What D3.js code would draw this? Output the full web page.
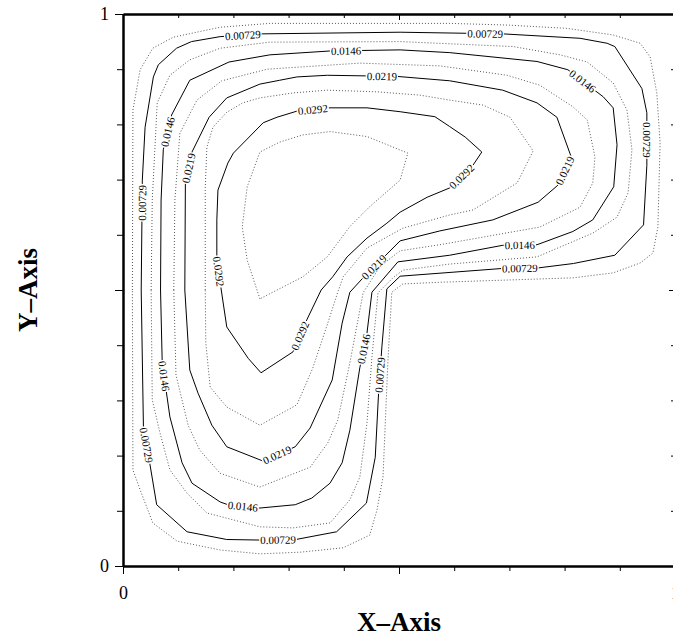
<!DOCTYPE html>
<html>
<head>
<meta charset="utf-8">
<script src="https://cdn.jsdelivr.net/npm/d3@7"></script>
<style>
  body { margin: 0; background: #fff; }
  svg { display: block; }
</style>
</head>
<body>
<div id="chart"></div>
<script>
// contour levels, dotted ones sit half way between the labelled ones
const levels = [0.003645, 0.00729, 0.010935, 0.0146, 0.018225, 0.0219, 0.025515, 0.0292, 0.032805]
const levelText = ['', '0.00729', '', '0.0146', '', '0.0219', '', '0.0292', '']

// contour lines, [x, y] in axis units
const c00365 = [[0.017,0.5],[0.018,0.826],[0.031,0.899],[0.054,0.938],[0.091,0.958],[0.176,0.976],[0.266,0.983],[0.592,0.983],[0.696,0.980],[0.804,0.974],[0.888,0.962],[0.937,0.947],[0.955,0.922],[0.967,0.857],[0.973,0.766],[0.969,0.614],[0.960,0.567],[0.937,0.549],[0.888,0.531],[0.815,0.522],[0.574,0.514],[0.507,0.511],[0.487,0.496],[0.480,0.373],[0.471,0.161],[0.460,0.101],[0.447,0.056],[0.399,0.033],[0.321,0.025],[0.248,0.022],[0.176,0.029],[0.098,0.045],[0.054,0.078],[0.031,0.138],[0.018,0.174]]
const c00729 = [[0.313,0.048],[0.248,0.047],[0.188,0.048],[0.116,0.062],[0.061,0.111],[0.049,0.183],[0.037,0.252],[0.033,0.5],[0.035,0.699],[0.040,0.795],[0.055,0.886],[0.064,0.908],[0.097,0.938],[0.124,0.950],[0.176,0.959],[0.252,0.964],[0.502,0.967],[0.688,0.964],[0.828,0.956],[0.877,0.947],[0.891,0.941],[0.940,0.865],[0.949,0.821],[0.949,0.726],[0.943,0.618],[0.891,0.563],[0.816,0.548],[0.752,0.540],[0.687,0.539],[0.502,0.525],[0.478,0.502],[0.469,0.397],[0.463,0.313],[0.457,0.197],[0.441,0.114],[0.387,0.062]]
const c01094 = [[0.051,0.5],[0.053,0.663],[0.062,0.839],[0.085,0.889],[0.121,0.917],[0.176,0.938],[0.266,0.949],[0.502,0.950],[0.707,0.941],[0.792,0.926],[0.841,0.913],[0.888,0.875],[0.913,0.826],[0.922,0.754],[0.915,0.676],[0.895,0.632],[0.851,0.603],[0.75,0.560],[0.592,0.547],[0.507,0.536],[0.489,0.522],[0.462,0.495],[0.451,0.379],[0.442,0.259],[0.429,0.161],[0.411,0.120],[0.375,0.078],[0.308,0.069],[0.248,0.071],[0.152,0.096],[0.116,0.132],[0.085,0.174],[0.067,0.241],[0.053,0.301]]
const c0146 = [[0.248,0.105],[0.190,0.111],[0.176,0.116],[0.125,0.150],[0.107,0.187],[0.085,0.270],[0.078,0.319],[0.071,0.370],[0.068,0.5],[0.069,0.663],[0.073,0.754],[0.088,0.817],[0.121,0.880],[0.192,0.913],[0.266,0.926],[0.375,0.933],[0.502,0.935],[0.592,0.930],[0.75,0.914],[0.806,0.899],[0.870,0.850],[0.888,0.830],[0.895,0.763],[0.889,0.687],[0.851,0.627],[0.815,0.606],[0.75,0.582],[0.688,0.581],[0.592,0.563],[0.498,0.551],[0.451,0.496],[0.442,0.422],[0.429,0.359],[0.411,0.246],[0.397,0.187],[0.375,0.150],[0.342,0.123],[0.312,0.111]]
const c01823 = [[0.092,0.5],[0.094,0.663],[0.103,0.784],[0.134,0.844],[0.179,0.879],[0.261,0.900],[0.429,0.911],[0.574,0.906],[0.696,0.889],[0.755,0.871],[0.815,0.832],[0.841,0.808],[0.855,0.741],[0.851,0.694],[0.828,0.650],[0.755,0.614],[0.574,0.582],[0.502,0.571],[0.466,0.543],[0.435,0.495],[0.411,0.368],[0.389,0.264],[0.371,0.223],[0.339,0.179],[0.248,0.143],[0.176,0.168],[0.139,0.210],[0.118,0.255],[0.096,0.346]]
const c0219 = [[0.112,0.5],[0.113,0.694],[0.125,0.75],[0.156,0.813],[0.188,0.848],[0.248,0.873],[0.284,0.880],[0.315,0.886],[0.370,0.889],[0.496,0.887],[0.592,0.879],[0.688,0.862],[0.75,0.839],[0.786,0.813],[0.812,0.741],[0.788,0.690],[0.752,0.659],[0.670,0.627],[0.574,0.607],[0.502,0.589],[0.433,0.520],[0.411,0.496],[0.397,0.440],[0.379,0.337],[0.339,0.250],[0.312,0.216],[0.254,0.190],[0.188,0.216],[0.161,0.255],[0.136,0.313],[0.121,0.355]]
const c02552 = [[0.149,0.5],[0.149,0.687],[0.152,0.759],[0.163,0.795],[0.188,0.822],[0.217,0.839],[0.248,0.848],[0.308,0.857],[0.370,0.862],[0.460,0.859],[0.538,0.853],[0.592,0.844],[0.652,0.835],[0.701,0.813],[0.743,0.752],[0.714,0.694],[0.634,0.645],[0.592,0.636],[0.507,0.612],[0.442,0.576],[0.399,0.524],[0.389,0.496],[0.371,0.440],[0.344,0.359],[0.315,0.292],[0.248,0.255],[0.188,0.288],[0.158,0.324],[0.150,0.404]]
const c0292 = [[0.25,0.35],[0.227,0.376],[0.188,0.433],[0.178,0.5],[0.170,0.560],[0.170,0.627],[0.172,0.681],[0.190,0.730],[0.2,0.748],[0.254,0.803],[0.279,0.813],[0.315,0.824],[0.375,0.830],[0.442,0.830],[0.502,0.823],[0.565,0.814],[0.592,0.796],[0.620,0.777],[0.65,0.75],[0.634,0.726],[0.592,0.685],[0.551,0.668],[0.502,0.641],[0.478,0.621],[0.442,0.594],[0.406,0.560],[0.380,0.524],[0.359,0.5],[0.333,0.446],[0.308,0.388]]
const c03281 = [[0.248,0.484],[0.225,0.554],[0.216,0.614],[0.225,0.687],[0.248,0.75],[0.284,0.768],[0.326,0.781],[0.375,0.787],[0.442,0.778],[0.516,0.748],[0.502,0.699],[0.447,0.651],[0.411,0.615],[0.370,0.560],[0.326,0.524]]

// where the level labels sit on the solid lines
const lab00729 = [[0.217,0.962],[0.656,0.966],[0.951,0.772],[0.719,0.540],[0.466,0.346],[0.281,0.047],[0.043,0.219],[0.035,0.658]]
const lab0146 = [[0.082,0.786],[0.404,0.933],[0.830,0.875],[0.719,0.582],[0.437,0.393],[0.217,0.107],[0.074,0.344]]
const lab0219 = [[0.118,0.721],[0.469,0.887],[0.801,0.716],[0.451,0.545],[0.281,0.197]]
const lab0292 = [[0.344,0.826],[0.170,0.533],[0.616,0.703],[0.321,0.417]]

const ticks = [0, 0.1, 0.2, 0.3, 0.4, 0.5, 0.6, 0.7, 0.8, 0.9, 1]
const tickLabels = {0: '0', 1: '1'}

const lines = [c00365, c00729, c01094, c0146, c01823, c0219, c02552, c0292, c03281]
const labels = [[], lab00729, [], lab0146, [], lab0219, [], lab0292, []]

let x = d3.scaleLinear().domain([0, 1]).range([123, 675])
let y = d3.scaleLinear().domain([0, 1]).range([566, 14])

let svg = d3.select('#chart').append('svg')
  .attr('width', 673).attr('height', 637)
  .style('font-family', '"Liberation Serif", "Times New Roman", serif')
let defs = svg.append('defs')

let pathG = svg.append('g')
let labelG = svg.append('g')

let line = d3.line().x(d => x(d[0])).y(d => y(d[1])).curve(d3.curveLinearClosed)

// find spot on closed polyline nearest the anchor and the angle over the label length
function place(px, anchor, half) {
  let pts = px.concat([px[0]])
  let cum = [0]
  for (let i = 1; i < pts.length; i++)
    cum.push(cum[i-1] + Math.hypot(pts[i][0]-pts[i-1][0], pts[i][1]-pts[i-1][1]))
  let total = cum[cum.length-1]
  let best = {d: Infinity}
  for (let i = 0; i < pts.length-1; i++) {
    let a = pts[i], b = pts[i+1]
    let dx = b[0]-a[0], dy = b[1]-a[1], L2 = dx*dx + dy*dy
    let t = L2 ? Math.max(0, Math.min(1, ((anchor[0]-a[0])*dx + (anchor[1]-a[1])*dy) / L2)) : 0
    let q = [a[0]+t*dx, a[1]+t*dy]
    let d = Math.hypot(anchor[0]-q[0], anchor[1]-q[1])
    if (d < best.d) best = {d: d, s: cum[i] + t*Math.sqrt(L2), q: q}
  }
  function at(s) {
    s = ((s % total) + total) % total
    let i = Math.min(d3.bisectRight(cum, s) - 1, pts.length-2)
    let seg = cum[i+1] - cum[i]
    let t = seg ? (s - cum[i]) / seg : 0
    return [pts[i][0] + t*(pts[i+1][0]-pts[i][0]), pts[i][1] + t*(pts[i+1][1]-pts[i][1])]
  }
  let p1 = at(best.s - half), p2 = at(best.s + half)
  let ang = Math.atan2(p2[1]-p1[1], p2[0]-p1[0]) * 180 / Math.PI
  if (ang > 90) ang -= 180
  if (ang <= -90) ang += 180
  return {c: best.q, ang: ang}
}

lines.forEach(function(pts, i) {
  let dotted = i % 2 === 0
  let p = pathG.append('path')
    .attr('d', line(pts))
    .attr('fill', 'none')
    .attr('stroke', dotted ? '#444' : '#000')
    .attr('stroke-width', dotted ? 0.9 : 1)
    .attr('stroke-dasharray', dotted ? '1,2' : null)

  if (!labels[i].length) return

  let mask = defs.append('mask').attr('id', 'm' + i)
    .attr('maskUnits', 'userSpaceOnUse')
    .attr('x', 0).attr('y', 0).attr('width', 673).attr('height', 637)
  mask.append('rect').attr('width', 673).attr('height', 637).attr('fill', '#fff')
  p.attr('mask', 'url(#m' + i + ')')

  let px = pts.map(d => [x(d[0]), y(d[1])])
  labels[i].forEach(function(a) {
    let t = labelG.append('text')
      .attr('text-anchor', 'middle')
      .attr('dominant-baseline', 'central')
      .attr('font-size', 11)
      .text(levelText[i])
    let w = t.node().getComputedTextLength()
    let pl = place(px, [x(a[0]), y(a[1])], w/2)
    let tr = 'translate(' + pl.c[0] + ',' + pl.c[1] + ') rotate(' + pl.ang + ')'
    t.attr('transform', tr)
    mask.append('rect')
      .attr('x', -w/2 - 1).attr('y', -4).attr('width', w + 2).attr('height', 8)
      .attr('fill', '#000').attr('transform', tr)
  })
})

// axes
let isMajor = d => Math.round(d*10) % 5 === 0
let fmt = d => tickLabels[d] || ''

let leftAxis = svg.append('g').attr('transform', 'translate(123,0)')
  .call(d3.axisLeft(y).tickValues(ticks).tickFormat(fmt).tickSizeInner(6).tickSizeOuter(0).tickPadding(8))
leftAxis.selectAll('.tick line').attr('x2', d => isMajor(d) ? -8 : -6)

let bottomAxis = svg.append('g').attr('transform', 'translate(0,566)')
  .call(d3.axisBottom(x).tickValues(ticks).tickFormat(fmt).tickSizeInner(5).tickSizeOuter(0).tickPadding(15))
bottomAxis.selectAll('.tick line').attr('y2', d => isMajor(d) ? 8 : 5)

let topAxis = svg.append('g').attr('transform', 'translate(0,14)')
  .call(d3.axisTop(x).tickValues(ticks).tickFormat('').tickSizeInner(-4).tickSizeOuter(0))
topAxis.selectAll('.tick line').attr('y2', d => isMajor(d) ? 6 : 4)

let rightAxis = svg.append('g').attr('transform', 'translate(675,0)')
  .call(d3.axisRight(y).tickValues(ticks).tickFormat('').tickSizeInner(-4).tickSizeOuter(0))
rightAxis.selectAll('.tick line').attr('x2', d => isMajor(d) ? -6 : -4)

svg.selectAll('.domain').attr('stroke', '#000').attr('stroke-width', 2.5)
svg.selectAll('.tick line').attr('stroke', '#000').attr('stroke-width', 1)
svg.selectAll('.tick text')
  .attr('font-family', '"Liberation Serif", serif')
  .attr('font-size', 18).attr('fill', '#000')

svg.append('text')
  .attr('x', 399).attr('y', 631)
  .attr('text-anchor', 'middle')
  .attr('font-size', 27).attr('font-weight', 'bold')
  .text('X–Axis')

svg.append('text')
  .attr('transform', 'translate(37,290) rotate(-90)')
  .attr('text-anchor', 'middle')
  .attr('font-size', 27).attr('font-weight', 'bold')
  .text('Y–Axis')
</script>
</body>
</html>
